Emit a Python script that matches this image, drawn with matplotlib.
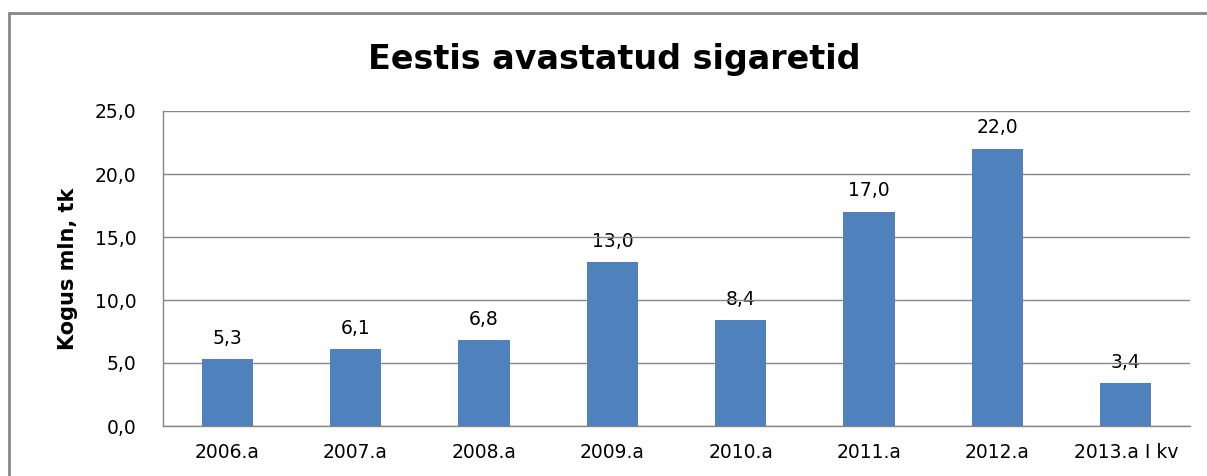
import matplotlib.pyplot as plt
from matplotlib.patches import Rectangle

categories = ['2006.a', '2007.a', '2008.a', '2009.a', '2010.a', '2011.a', '2012.a', '2013.a I kv']
values = [5.3, 6.1, 6.8, 13.0, 8.4, 17.0, 22.0, 3.4]
yticks = [0, 5, 10, 15, 20, 25]

fig = plt.figure(figsize=(12.07, 4.76), dpi=100)
# outer chart frame (right and bottom edges fall outside the image)
fig.patches.append(Rectangle((9 / 1207, -0.1), 1.2, 1 - 13 / 476 + 0.1,
                             transform=fig.transFigure, fill=False,
                             edgecolor='#868686', linewidth=2))

ax = fig.add_axes([163 / 1207, 1 - 426 / 476, (1190 - 163) / 1207, (426 - 111) / 476])
x = range(len(categories))
ax.bar(x, values, width=0.4, color='#4F81BD', zorder=3)
for i, v in enumerate(values):
    ax.text(i, v + 0.9, f'{v:.1f}'.replace('.', ','), ha='center', va='bottom',
            fontsize=13.5, color='#000000', zorder=1)

ax.set_xlim(-0.5, len(categories) - 0.5)
ax.set_ylim(0, 25)
ax.set_yticks(yticks)
ax.set_yticklabels([f'{t:.1f}'.replace('.', ',') for t in yticks], fontsize=13.5)
ax.set_xticks(list(x))
ax.set_xticklabels(categories, fontsize=13.5)
ax.tick_params(length=0, pad=12)
ax.tick_params(axis='y', pad=19)

ax.yaxis.grid(True, color='#868686', linewidth=1, zorder=2)
for s in ['top', 'right']:
    ax.spines[s].set_visible(False)
for s in ['left', 'bottom']:
    ax.spines[s].set_color('#868686')
    ax.spines[s].set_linewidth(1)

ax.set_ylabel('Kogus mln, tk', fontsize=15, fontweight='bold', labelpad=12)
fig.text(614 / 1207, 1 - 60 / 476, 'Eestis avastatud sigaretid', ha='center', va='center',
         fontsize=24, fontweight='bold')

fig.savefig('out.png', dpi=100)
